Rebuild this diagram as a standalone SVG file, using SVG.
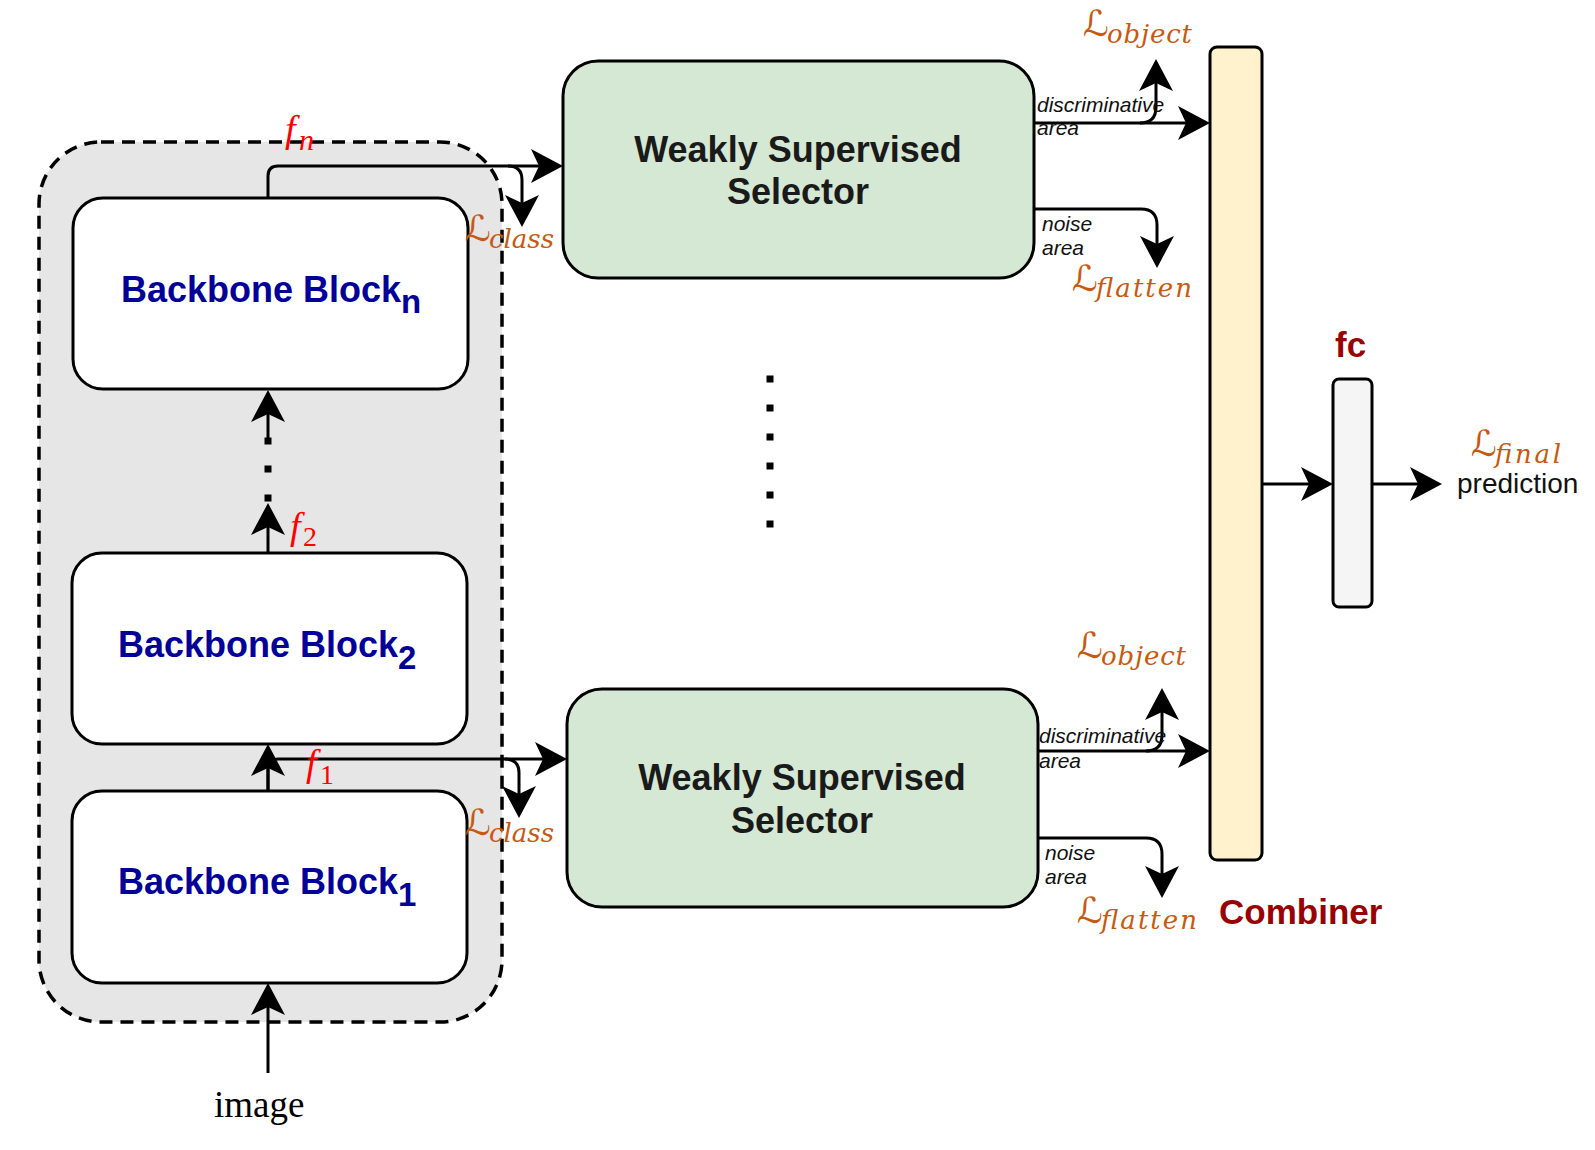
<svg xmlns="http://www.w3.org/2000/svg" width="1595" height="1150" viewBox="0 0 1595 1150">
<style>
.box{stroke:#000;stroke-width:3}
.bb{fill:#fff}
.ws{fill:#d5e8d4}
.ln{fill:none;stroke:#000;stroke-width:3;marker-end:url(#arr)}
.bt{font-family:"Liberation Sans",Arial,sans-serif;font-weight:bold;font-size:36px;fill:#000099}
.bs{font-size:33px}
.wt{font-family:"Liberation Sans",Arial,sans-serif;font-weight:bold;font-size:36px;fill:#1a1a1a;text-anchor:middle}
.sm{font-family:"Liberation Sans",Arial,sans-serif;font-style:italic;font-size:21px;fill:#111}
.red{font-family:"Liberation Sans",Arial,sans-serif;font-weight:bold;font-size:35px;fill:#990000}
.L{font-family:"DejaVu Sans",sans-serif;font-size:36px;fill:#C55A11}
.Ls{font-family:"DejaVu Serif",serif;font-style:italic;font-size:26px;fill:#C55A11}
.f{font-family:"Liberation Serif",serif;font-style:italic;font-size:38px;fill:#ff0000}
.fs{font-family:"Liberation Serif",serif;font-size:28px;fill:#ff0000}
.dot{fill:#000}
</style>
<defs>
<marker id="arr" markerUnits="userSpaceOnUse" markerWidth="32" markerHeight="34" viewBox="0 0 32 34" refX="27" refY="17" orient="auto">
<path d="M0,0 L32,17 L0,34 L8,17 Z" fill="#000"/>
</marker>
</defs>
<rect width="1595" height="1150" fill="#fff"/>

<g id="backbone-container">
<rect x="39" y="142" width="463" height="880" rx="62" fill="#e6e6e6" stroke="#000" stroke-width="3.5" stroke-dasharray="13 8"/>
</g>

<g id="block-n">
<rect class="box bb" x="73" y="198" width="395" height="191" rx="30"/>
<text class="bt" x="121" y="302">Backbone Block<tspan class="bs" dy="11">n</tspan></text>
</g>
<g id="block-2">
<rect class="box bb" x="72" y="553" width="395" height="191" rx="30"/>
<text class="bt" x="118" y="657">Backbone Block<tspan class="bs" dy="12">2</tspan></text>
</g>
<g id="block-1">
<rect class="box bb" x="72" y="791" width="395" height="192" rx="30"/>
<text class="bt" x="118" y="894">Backbone Block<tspan class="bs" dy="12">1</tspan></text>
</g>

<g id="wss-top">
<rect class="box ws" x="563" y="61" width="471" height="217" rx="35"/>
<text class="wt" x="798" y="162">Weakly Supervised</text>
<text class="wt" x="798" y="204">Selector</text>
</g>
<g id="wss-bottom">
<rect class="box ws" x="567" y="689" width="471" height="218" rx="35"/>
<text class="wt" x="802" y="790">Weakly Supervised</text>
<text class="wt" x="802" y="833">Selector</text>
</g>

<g id="combiner">
<rect class="box" x="1210" y="47" width="52" height="813" rx="7" fill="#fff2cc"/>
<text class="red" x="1219" y="924">Combiner</text>
</g>
<g id="fc">
<rect class="box" x="1333" y="379" width="39" height="228" rx="6" fill="#f5f5f5"/>
<text class="red" x="1335" y="357">fc</text>
</g>

<g id="dots">
<rect class="dot" x="766.5" y="375.5" width="7" height="7"/>
<rect class="dot" x="766.5" y="404.5" width="7" height="7"/>
<rect class="dot" x="766.5" y="433.5" width="7" height="7"/>
<rect class="dot" x="766.5" y="462.5" width="7" height="7"/>
<rect class="dot" x="766.5" y="491.5" width="7" height="7"/>
<rect class="dot" x="766.5" y="520.5" width="7" height="7"/>
</g>

<g id="connectors">
<path class="ln" d="M268,1073 V988"/>
<path class="ln" d="M268,791 V749"/>
<path class="ln" d="M268,791 V769 Q268,759 278,759 H562"/>
<path class="ln" d="M505,759 Q519,759 519,773 V813"/>
<path class="ln" d="M268,553 V508"/>
<rect class="dot" x="264.5" y="494.5" width="7" height="7"/>
<rect class="dot" x="264.5" y="465.5" width="7" height="7"/>
<rect class="dot" x="264.5" y="437.5" width="7" height="7"/>
<path class="ln" d="M268,441 V395"/>
<path class="ln" d="M268,198 V176 Q268,166 278,166 H558"/>
<path class="ln" d="M508,166 Q522,166 522,180 V222"/>
<path class="ln" d="M1034,123 H1205"/>
<path class="ln" d="M1140,123 Q1156,123 1156,107 V64"/>
<path class="ln" d="M1034,209 H1141 Q1157,209 1157,225 V263"/>
<path class="ln" d="M1038,751 H1205"/>
<path class="ln" d="M1146,751 Q1162,751 1162,735 V693"/>
<path class="ln" d="M1038,838 H1146 Q1162,838 1162,854 V893"/>
<path class="ln" d="M1262,484 H1328"/>
<path class="ln" d="M1372,484 H1437"/>
</g>

<g id="labels">
<text class="f" x="285" y="142">f</text><text class="f" x="299" y="150" style="font-size:30px">n</text>
<text class="f" x="290" y="539">f</text><text class="fs" x="303" y="546">2</text>
<text class="f" x="306" y="776">f</text><text class="fs" x="320" y="784">1</text>

<text class="L" x="465" y="241">ℒ</text><text class="Ls" x="489" y="248" textLength="65">class</text>
<text class="L" x="465" y="835">ℒ</text><text class="Ls" x="489" y="842" textLength="65">class</text>

<text class="L" x="1083" y="36">ℒ</text><text class="Ls" x="1107" y="43" textLength="85">object</text>
<text class="L" x="1072" y="291">ℒ</text><text class="Ls" x="1096" y="297" textLength="96">flatten</text>
<text class="L" x="1077" y="658">ℒ</text><text class="Ls" x="1101" y="665" textLength="85">object</text>
<text class="L" x="1077" y="923">ℒ</text><text class="Ls" x="1101" y="929" textLength="96">flatten</text>
<text class="L" x="1471" y="456">ℒ</text><text class="Ls" x="1495" y="463" textLength="66">final</text>

<text class="sm" x="1037" y="112">discriminative</text>
<text class="sm" x="1037" y="135">area</text>
<text class="sm" x="1042" y="231">noise</text>
<text class="sm" x="1042" y="255">area</text>
<text class="sm" x="1039" y="743">discriminative</text>
<text class="sm" x="1039" y="768">area</text>
<text class="sm" x="1045" y="860">noise</text>
<text class="sm" x="1045" y="884">area</text>

<text x="1457" y="493" style="font-family:'Liberation Sans',Arial,sans-serif;font-size:28px;fill:#111">prediction</text>
<text x="214" y="1117" style="font-family:'Liberation Serif','Times New Roman',serif;font-size:37px;fill:#000">image</text>
</g>
</svg>
